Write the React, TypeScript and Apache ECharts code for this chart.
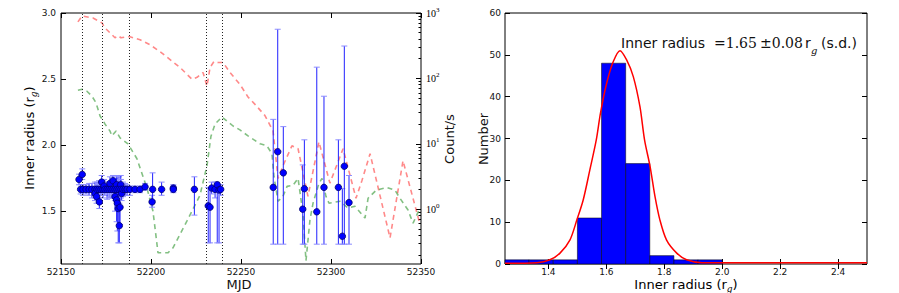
import React, { useEffect, useRef } from "react";
import * as echarts from "echarts";

// ---------- Left panel data ----------
const mjdTicks = [52150, 52200, 52250, 52300, 52350];
const radiusTicks = [1.5, 2.0, 2.5, 3.0];
const countTicks = [1, 10, 100, 1000];
const countMinorTicks = [
  0.2, 0.3, 0.4, 0.5, 0.6, 0.7, 0.8, 0.9,
  2, 3, 4, 5, 6, 7, 8, 9,
  20, 30, 40, 50, 60, 70, 80, 90,
  200, 300, 400, 500, 600, 700, 800, 900,
];
const dottedMjd = [52161.7, 52172.8, 52187.8, 52230.6, 52239.4];

// [MJD, count/s]
const redCounts: [number, number][] = [
  [52159.4, 731], [52161.7, 901], [52167.8, 840], [52172.8, 705], [52174.4, 593],
  [52177.2, 498], [52180.0, 418], [52181.7, 449], [52183.3, 418], [52186.7, 433],
  [52188.3, 433], [52193.9, 390], [52199.4, 327], [52205.0, 257], [52210.6, 194],
  [52216.1, 147], [52222.8, 97], [52225.6, 104], [52228.9, 123], [52231.1, 76],
  [52232.8, 147], [52235.0, 181], [52237.2, 175], [52240.0, 175], [52243.9, 123],
  [52249.4, 81], [52253.9, 52], [52257.8, 40], [52263.3, 27], [52267.8, 15.7],
  [52270.6, 2.95], [52273.3, 4.6], [52278.3, 9.3], [52281.7, 8.4], [52287.2, 1.57],
  [52293.3, 10.7], [52299.4, 2.5], [52306.7, 8.4], [52313.9, 1.47], [52317.2, 2.75],
  [52321.7, 7.05], [52332.8, 0.364], [52340.0, 5.5], [52349.4, 0.59],
];

const greenCounts: [number, number][] = [
  [52159.4, 65.8], [52161.7, 68], [52164.4, 63.5], [52167.2, 53.4], [52168.9, 44.8],
  [52170.0, 37.7], [52171.7, 26.6], [52172.8, 23.9], [52174.4, 20.1], [52177.2, 15.7],
  [52178.3, 13.2], [52180.6, 15.7], [52182.8, 12.3], [52185.0, 11.1], [52187.2, 10],
  [52192.2, 5.9], [52197.8, 2.08], [52201.1, 0.93], [52203.9, 0.215], [52209.4, 0.215],
  [52212.2, 0.256], [52220.0, 0.66], [52227.2, 1.63], [52231.1, 4.64], [52233.3, 13],
  [52235.6, 20], [52239.4, 25.7], [52245.6, 18.7], [52249.4, 16.3], [52253.9, 13.2],
  [52260.6, 10], [52264.4, 9.3], [52267.2, 7.05], [52268.3, 3.16], [52270.6, 1.32],
  [52273.3, 1.57], [52275.6, 2.23], [52278.9, 2.31], [52281.7, 2.95], [52284.4, 0.87],
  [52286.1, 0.163], [52288.3, 0.68], [52290.0, 1.23], [52293.3, 2.48], [52295.0, 2.95],
  [52297.2, 1.57], [52298.9, 1.23], [52305.0, 1.32], [52309.4, 1.04], [52313.3, 1.11],
  [52318.9, 0.73], [52320.6, 1.47], [52325.0, 1.94], [52331.1, 2.15], [52335.6, 1.94],
  [52338.3, 1.47], [52342.8, 0.97], [52345.6, 0.61], [52349.4, 1.04],
];

// [MJD, inner radius, lower error, upper error]
const radiusEarly: [number, number, number, number][] = [
  [52160.0, 1.74, 1.70, 1.78], [52160.9, 1.665, 1.63, 1.70], [52161.8, 1.778, 1.74, 1.82],
  [52162.2, 1.665, 1.62, 1.70], [52163.9, 1.665, 1.63, 1.70], [52165.6, 1.665, 1.62, 1.71],
  [52167.2, 1.665, 1.60, 1.71], [52168.9, 1.665, 1.60, 1.72], [52168.9, 1.634, 1.58, 1.69],
  [52169.8, 1.61, 1.56, 1.66], [52170.0, 1.665, 1.61, 1.72], [52171.1, 1.665, 1.60, 1.73],
  [52171.3, 1.57, 1.52, 1.62], [52172.2, 1.665, 1.62, 1.70], [52172.6, 1.72, 1.67, 1.77],
  [52173.3, 1.665, 1.60, 1.73], [52173.9, 1.69, 1.64, 1.74], [52174.4, 1.665, 1.62, 1.71],
  [52175.6, 1.665, 1.59, 1.72], [52176.7, 1.665, 1.60, 1.72], [52177.2, 1.71, 1.66, 1.76],
  [52177.8, 1.665, 1.60, 1.72], [52178.9, 1.665, 1.60, 1.73], [52178.9, 1.73, 1.68, 1.77],
  [52180.0, 1.665, 1.58, 1.75], [52180.0, 1.61, 1.50, 1.70], [52180.9, 1.585, 1.42, 1.70],
  [52180.9, 1.70, 1.64, 1.77], [52181.1, 1.665, 1.58, 1.76], [52181.3, 1.56, 1.35, 1.72],
  [52181.8, 1.52, 1.26, 1.72], [52182.2, 1.665, 1.60, 1.76], [52182.4, 1.39, 1.26, 1.56],
  [52182.8, 1.53, 1.40, 1.66], [52183.2, 1.70, 1.64, 1.77], [52183.3, 1.665, 1.60, 1.74],
  [52183.7, 1.634, 1.58, 1.70], [52184.4, 1.665, 1.61, 1.72], [52185.6, 1.665, 1.62, 1.71],
  [52186.7, 1.665, 1.62, 1.70], [52188.3, 1.665, 1.62, 1.69], [52191.1, 1.665, 1.64, 1.69],
  [52193.9, 1.665, 1.64, 1.69], [52196.7, 1.684, 1.66, 1.71], [52200.6, 1.57, 1.53, 1.62],
  [52200.9, 1.665, 1.58, 1.79], [52205.9, 1.665, 1.62, 1.72], [52212.4, 1.675, 1.65, 1.70],
  [52212.4, 1.665, 1.64, 1.69], [52224.1, 1.665, 1.47, 1.76], [52231.8, 1.54, 1.26, 1.68],
  [52232.8, 1.53, 1.26, 1.67], [52233.7, 1.675, 1.63, 1.72], [52235.6, 1.665, 1.60, 1.72],
  [52236.8, 1.70, 1.26, 1.72], [52237.8, 1.66, 1.26, 1.70], [52238.7, 1.665, 1.62, 1.70],
];

const radiusLate: [number, number, number, number][] = [
  [52267.9, 1.68, 1.25, 2.195], [52270.4, 1.95, 1.25, 2.877], [52273.5, 1.79, 1.25, 2.14],
  [52284.3, 1.515, 1.25, 1.85], [52285.2, 1.67, 1.25, 2.04], [52292.1, 1.495, 1.25, 2.59],
  [52296.1, 1.68, 1.25, 2.37], [52304.1, 1.68, 1.25, 2.04], [52306.3, 1.31, 1.25, 1.67],
  [52307.4, 1.84, 1.25, 2.75], [52310.0, 1.565, 1.25, 1.77],
];

// ---------- Right panel data ----------
const histTicks = [1.4, 1.6, 1.8, 2.0, 2.2, 2.4];
// [bin start, bin end, number]
const histBins: [number, number, number][] = [
  [1.25, 1.3333, 1], [1.3333, 1.4167, 1], [1.4167, 1.5, 1],
  [1.5, 1.5833, 11], [1.5833, 1.6667, 48], [1.6667, 1.75, 24],
  [1.75, 1.8333, 2], [1.8333, 1.9167, 1], [1.9167, 2.0, 1],
];
// red fit curve [inner radius, number]
const fitCurve: [number, number][] = [
  [1.25, 0.15], [1.36, 0.3], [1.405, 1.0], [1.44, 2.6], [1.474, 5.7], [1.498, 10.5],
  [1.52, 15.3], [1.543, 22.5], [1.565, 29.6], [1.58, 36.2], [1.601, 43.2], [1.624, 48.4],
  [1.647, 51.0], [1.67, 48.8], [1.693, 44.8], [1.716, 37.6], [1.732, 29.6], [1.751, 23.3],
  [1.768, 16.1], [1.785, 10.5], [1.808, 5.7], [1.843, 2.6], [1.877, 1.0], [1.93, 0.3],
  [2.0, 0.3], [2.5, 0.3],
];

const TICK_FONT = "DejaVu Sans";
const TEXT = "#111";

function buildOption() {
  const tickStyle = { show: true, inside: true, length: 5, lineStyle: { color: "#000", width: 1 } };
  const labelStyle = { fontSize: 9, fontFamily: TICK_FONT, color: TEXT };

  const errorBarSeries = (data: [number, number, number, number][]) => ({
    type: "custom",
    xAxisIndex: 0,
    yAxisIndex: 0,
    z: 4,
    data,
    encode: { x: 0, y: 1 },
    renderItem: (_params: any, api: any) => {
      const x = api.value(0);
      const lo = api.coord([x, api.value(2)]);
      const hi = api.coord([x, api.value(3)]);
      const c = 3;
      const st = { stroke: "#2020ff", lineWidth: 1 };
      return {
        type: "group",
        children: [
          { type: "line", shape: { x1: lo[0], y1: lo[1], x2: hi[0], y2: hi[1] }, style: st },
          { type: "line", shape: { x1: lo[0] - c, y1: lo[1], x2: lo[0] + c, y2: lo[1] }, style: { stroke: "#8c8cff", lineWidth: 1 } },
          { type: "line", shape: { x1: hi[0] - c, y1: hi[1], x2: hi[0] + c, y2: hi[1] }, style: { stroke: "#8c8cff", lineWidth: 1 } },
        ],
      };
    },
  });

  const subRich = {
    a: { fontSize: 13, fontFamily: "DejaVu Sans", color: TEXT, lineHeight: 18, verticalAlign: "middle" },
    g: { fontSize: 9, fontFamily: "DejaVu Serif", fontStyle: "italic", color: TEXT, lineHeight: 9, verticalAlign: "bottom" },
  };

  return {
    animation: false,
    backgroundColor: "#fff",
    grid: [
      { left: 61, top: 13, width: 360, height: 251, show: true, borderColor: "#000", borderWidth: 1, backgroundColor: "#fff" },
      { left: 505, top: 13, width: 362, height: 251, show: true, borderColor: "#000", borderWidth: 1, backgroundColor: "#fff" },
    ],
    xAxis: [
      {
        gridIndex: 0, type: "value", min: mjdTicks[0], max: mjdTicks[mjdTicks.length - 1], interval: 50, position: "bottom",
        axisLine: { show: false }, splitLine: { show: false }, axisTick: tickStyle,
        axisLabel: { ...labelStyle, margin: 3, formatter: (v: number) => String(v) },
      },
      {
        gridIndex: 0, type: "value", min: mjdTicks[0], max: mjdTicks[mjdTicks.length - 1], interval: 50, position: "top",
        axisLine: { show: false }, splitLine: { show: false }, axisTick: tickStyle, axisLabel: { show: false },
      },
      {
        gridIndex: 1, type: "value", min: 1.25, max: 2.5, position: "bottom",
        axisLine: { show: false }, splitLine: { show: false },
        axisTick: { ...tickStyle, customValues: histTicks },
        axisLabel: { ...labelStyle, margin: 3, customValues: histTicks, formatter: (v: number) => v.toFixed(1) },
      },
      {
        gridIndex: 1, type: "value", min: 1.25, max: 2.5, position: "top",
        axisLine: { show: false }, splitLine: { show: false },
        axisTick: { ...tickStyle, customValues: histTicks }, axisLabel: { show: false, customValues: histTicks },
      },
    ],
    yAxis: [
      {
        gridIndex: 0, type: "value", min: 1.1, max: 3.0, position: "left",
        axisLine: { show: false }, splitLine: { show: false },
        axisTick: { ...tickStyle, customValues: radiusTicks },
        axisLabel: { ...labelStyle, margin: 5, customValues: radiusTicks, formatter: (v: number) => v.toFixed(1) },
      },
      {
        gridIndex: 0, type: "log", logBase: 10, min: 0.145, max: 1000, position: "right",
        axisLine: { show: false }, splitLine: { show: false },
        axisTick: { ...tickStyle, customValues: countTicks },
        axisLabel: {
          margin: 5, customValues: countTicks,
          formatter: (v: number) => `{b|10}{s|${Math.round(Math.log10(v))}}`,
          rich: {
            b: { fontSize: 10, fontFamily: "Liberation Serif", color: "#000", lineHeight: 14, verticalAlign: "middle" },
            s: { fontSize: 7, fontFamily: "Liberation Serif", color: "#000", lineHeight: 7, verticalAlign: "top" },
          },
        },
      },
      {
        gridIndex: 0, type: "log", logBase: 10, min: 0.145, max: 1000, position: "right",
        axisLine: { show: false }, splitLine: { show: false },
        axisTick: { show: true, inside: true, length: 2.5, customValues: countMinorTicks, lineStyle: { color: "#000", width: 1 } },
        axisLabel: { show: false, customValues: countMinorTicks },
      },
      {
        gridIndex: 1, type: "value", min: 0, max: 60, interval: 10, position: "left",
        axisLine: { show: false }, splitLine: { show: false }, axisTick: tickStyle,
        axisLabel: { ...labelStyle, margin: 4 },
      },
      {
        gridIndex: 1, type: "value", min: 0, max: 60, interval: 10, position: "right",
        axisLine: { show: false }, splitLine: { show: false }, axisTick: tickStyle, axisLabel: { show: false },
      },
    ],
    series: [
      {
        type: "line", xAxisIndex: 0, yAxisIndex: 1, data: redCounts, showSymbol: false, z: 2,
        lineStyle: { color: "rgba(255,40,40,0.55)", width: 1.6, type: [5, 4] },
      },
      {
        type: "line", xAxisIndex: 0, yAxisIndex: 1, data: greenCounts, showSymbol: false, z: 2,
        lineStyle: { color: "rgba(30,140,30,0.55)", width: 1.6, type: [5, 4] },
      },
      errorBarSeries(radiusEarly),
      errorBarSeries(radiusLate),
      {
        type: "scatter", xAxisIndex: 0, yAxisIndex: 0, z: 5,
        data: [...radiusEarly, ...radiusLate].map((p) => [p[0], p[1]]),
        symbol: "circle", symbolSize: 6.5,
        itemStyle: { color: "#0000ff", borderColor: "#00006a", borderWidth: 0.8, opacity: 1 },
        markLine: {
          silent: true, symbol: ["none", "none"], label: { show: false },
          lineStyle: { color: "#222", type: [1, 2], width: 1 },
          data: dottedMjd.map((v) => ({ xAxis: v })),
        },
      },
      {
        type: "custom", xAxisIndex: 2, yAxisIndex: 3, z: 3, data: histBins,
        encode: { x: [0, 1], y: 2 },
        renderItem: (_params: any, api: any) => {
          const p0 = api.coord([api.value(0), api.value(2)]);
          const p1 = api.coord([api.value(1), 0]);
          return {
            type: "rect",
            shape: { x: p0[0], y: p0[1], width: p1[0] - p0[0], height: p1[1] - p0[1] },
            style: { fill: "#0000ff", stroke: "#000", lineWidth: 0.5 },
          };
        },
      },
      {
        type: "line", xAxisIndex: 2, yAxisIndex: 3, data: fitCurve, showSymbol: false, smooth: 0.3, z: 4,
        lineStyle: { color: "#ff0000", width: 1.5 },
      },
    ],
    graphic: [
      {
        type: "text", x: 29, y: 138, rotation: Math.PI / 2,
        style: { text: "{a|Inner radius (r}{g|g}{a|)}", rich: subRich, align: "center", verticalAlign: "middle" },
      },
      {
        type: "text", x: 239, y: 284,
        style: { text: "MJD", fontSize: 13, fontFamily: "DejaVu Sans", fill: TEXT, align: "center", verticalAlign: "middle" },
      },
      {
        type: "text", x: 449, y: 139, rotation: Math.PI / 2,
        style: { text: "Count/s", fontSize: 13, fontFamily: "DejaVu Sans", fill: TEXT, align: "center", verticalAlign: "middle" },
      },
      {
        type: "text", x: 483, y: 139, rotation: Math.PI / 2,
        style: { text: "Number", fontSize: 13, fontFamily: "DejaVu Sans", fill: TEXT, align: "center", verticalAlign: "middle" },
      },
      {
        type: "text", x: 686, y: 284,
        style: { text: "{a|Inner radius (r}{g|g}{a|)}", rich: subRich, align: "center", verticalAlign: "middle" },
      },
      {
        type: "text", x: 621, y: 43,
        style: { text: "Inner radius", fontSize: 14, fontFamily: "DejaVu Sans", fill: TEXT, align: "left", verticalAlign: "middle" },
      },
      {
        type: "text", x: 714, y: 43,
        style: { text: "=1.65", fontSize: 14, fontFamily: "DejaVu Serif", fill: TEXT, align: "left", verticalAlign: "middle" },
      },
      {
        type: "text", x: 760, y: 43,
        style: { text: "±0.08", fontSize: 14, fontFamily: "DejaVu Serif", fill: TEXT, align: "left", verticalAlign: "middle" },
      },
      {
        type: "text", x: 805, y: 43,
        style: { text: "r", fontSize: 14, fontFamily: "DejaVu Sans", fill: TEXT, align: "left", verticalAlign: "middle" },
      },
      {
        type: "text", x: 811, y: 50,
        style: { text: "g", fontSize: 10, fontFamily: "DejaVu Serif", fontStyle: "italic", fill: TEXT, align: "left", verticalAlign: "middle" },
      },
      {
        type: "text", x: 821, y: 43,
        style: { text: "(s.d.)", fontSize: 14, fontFamily: "DejaVu Sans", fill: TEXT, align: "left", verticalAlign: "middle" },
      },
    ],
  };
}

export default function App() {
  const ref = useRef<HTMLDivElement>(null);
  useEffect(() => {
    if (!ref.current) return;
    const chart = echarts.init(ref.current, null, { renderer: "svg" });
    chart.setOption(buildOption() as any);
    return () => chart.dispose();
  }, []);
  return (
    <div
      ref={ref}
      style={{ position: "fixed", left: 0, top: 0, width: 899, height: 293, background: "#fff" }}
    />
  );
}
